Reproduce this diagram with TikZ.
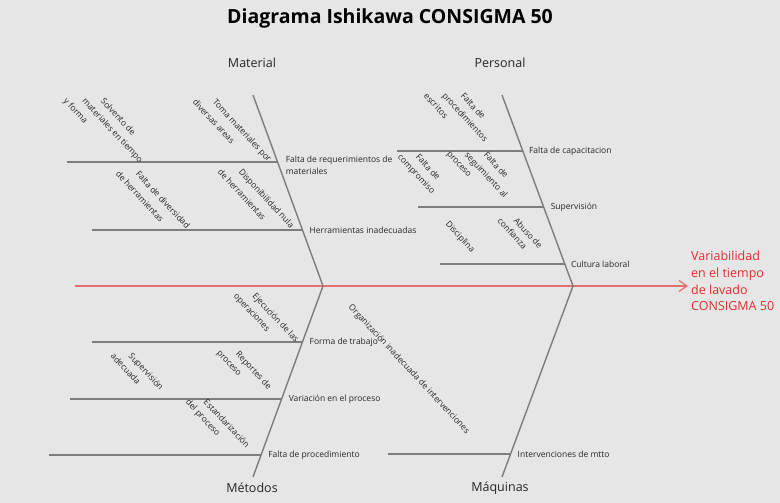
\documentclass[tikz,border=0pt]{standalone}
\usepackage{fontspec}
\setmainfont{Open Sans}
\usetikzlibrary{positioning, calc, arrows.meta}

\definecolor{bgGray}{RGB}{230,230,230}
\definecolor{boneGray}{RGB}{125,125,125}
\definecolor{spineRed}{RGB}{228,112,112}
\definecolor{effectRed}{RGB}{226,44,44}

\tikzset{
    bone/.style={draw=boneGray, line width=1.4pt},
    cause/.style={font=\fontsize{8.5}{11.5}\selectfont, text=black!85, inner sep=0pt, align=left},
    subcause/.style={font=\fontsize{8.5}{10}\selectfont, text=black!85, inner sep=0pt, rotate=-47, anchor=north west},
    category/.style={font=\fontsize{12.5}{15}\selectfont, text=black!85},
}

\begin{document}
\begin{tikzpicture}[x=1pt, y=-1pt]

    \useasboundingbox (0,0) rectangle (780,503);
    \fill[bgGray] (0,0) rectangle (780,503);

    % Title
    \node[font=\fontsize{19.5}{23}\selectfont\bfseries] (title) at (390,18) {Diagrama Ishikawa CONSIGMA 50};

    % =====================================================
    % SPINE AND EFFECT
    % =====================================================
    \coordinate (tail) at (75,286);
    \node[anchor=north west, inner sep=0pt, align=left, text=effectRed,
          font=\fontsize{12.5}{16.7}\selectfont] (effect) at (691,251)
          {Variabilidad\\en el tiempo\\de lavado\\CONSIGMA 50};
    \draw[spineRed, line width=1.2pt, -{Straight Barb[length=8pt, width=11pt]}, shorten >=3pt]
        (tail) -- (tail -| effect.west);

    % Main bones
    \coordinate (matTop)  at (253,95);
    \coordinate (matJoin) at (323,286);
    \coordinate (metBot)  at (253,477);
    \coordinate (perTop)  at (502,95);
    \coordinate (perJoin) at (573,286);
    \coordinate (maqBot)  at (502,477);

    \draw[bone] (matTop) -- (matJoin) -- (metBot);
    \draw[bone] (perTop) -- (perJoin) -- (maqBot);

    \node[category] (material) at (252,63)  {Material};
    \node[category] (personal) at (500,63)  {Personal};
    \node[category] (metodos)  at (252,488) {Métodos};
    \node[category] (maquinas) at (500,488) {Máquinas};

    % =====================================================
    % MATERIAL
    % =====================================================
    \foreach \n/\t/\len in {m1/0.351/211, m2/0.707/210} {
        \coordinate (\n) at ($(matTop)!\t!(matJoin)$);
        \draw[bone] (\n) -- ++(-\len,0) coordinate (\n s);
    }
    \node[cause, below right=-6pt and 8pt of m1] (falReq) {Falta de requerimientos de\\materiales};
    \node[cause, right=7pt of m2] (herrIn) {Herramientas inadecuadas};

    \foreach \txt [count=\i] in {Solvento de, materiales en tiempo, y forma}
        \node[subcause] (solv\i) at ({105-18.5*(\i-1)},97) {\txt};
    \foreach \txt [count=\i] in {Toma materiales por, diversas areas}
        \node[subcause] (toma\i) at ({217-20*(\i-1)},98) {\txt};
    \foreach \txt [count=\i] in {Falta de diversidad, de herramientas}
        \node[subcause] (diver\i) at ({140-20*(\i-1)},170) {\txt};
    \foreach \txt [count=\i] in {Disponibilidad nula, de herramientas}
        \node[subcause] (dispo\i) at ({243-21*(\i-1)},168) {\txt};

    % =====================================================
    % PERSONAL
    % =====================================================
    \foreach \n/\t/\len in {p1/0.293/126, p2/0.586/126, p3/0.885/125} {
        \coordinate (\n) at ($(perTop)!\t!(perJoin)$);
        \draw[bone] (\n) -- ++(-\len,0) coordinate (\n s);
    }
    \node[cause, right=6pt of p1] (capac) {Falta de capacitacion};
    \node[cause, right=7pt of p2] (superv) {Supervisión};
    \node[cause, right=6pt of p3] (cultura) {Cultura laboral};

    \foreach \txt [count=\i] in {Falta de, procedimientos, escritos}
        \node[subcause] (proc\i) at ({465-18.5*(\i-1)},92) {\txt};
    \foreach \txt [count=\i] in {Falta de, compromiso}
        \node[subcause] (compr\i) at ({420-18*(\i-1)},153) {\txt};
    \foreach \txt [count=\i] in {Falta de, seguimiento al, proceso}
        \node[subcause] (segui\i) at ({488-19*(\i-1)},151) {\txt};
    \node[subcause] (disci) at (450,220) {Disciplina};
    \foreach \txt [count=\i] in {Abuso de, confianza}
        \node[subcause] (abuso\i) at ({518-16*(\i-1)},217) {\txt};

    % =====================================================
    % METODOS
    % =====================================================
    \foreach \n/\t/\len in {t1/0.293/210, t2/0.592/212, t3/0.885/212} {
        \coordinate (\n) at ($(matJoin)!\t!(metBot)$);
        \draw[bone] (\n) -- ++(-\len,0) coordinate (\n s);
    }
    \node[cause, right=7pt of t1] (forma) {Forma de trabajo};
    \node[cause, right=7pt of t2] (variac) {Variación en el proceso};
    \node[cause, right=7pt of t3] (falProc) {Falta de procedimiento};

    \foreach \txt [count=\i] in {Ejecución de las, operaciones}
        \node[subcause] (ejec\i) at ({257-19*(\i-1)},292) {\txt};
    \foreach \txt [count=\i] in {Supervisión, adecuada}
        \node[subcause] (supAd\i) at ({133-18*(\i-1)},352) {\txt};
    \foreach \txt [count=\i] in {Reportes de, proceso}
        \node[subcause] (repor\i) at ({240-20*(\i-1)},350) {\txt};
    \foreach \txt [count=\i] in {Estandarización, del proceso}
        \node[subcause] (estan\i) at ({208-18*(\i-1)},398) {\txt};

    % =====================================================
    % MAQUINAS
    % =====================================================
    \coordinate (q1) at ($(perJoin)!0.88!(maqBot)$);
    \draw[bone] (q1) -- ++(-123,0) coordinate (q1s);
    \node[cause, right=7pt of q1] (interv) {Intervenciones de mtto};
    \node[subcause] (organ) at (353,303) {Organización inadecuada de intervenciones};

\end{tikzpicture}
\end{document}
